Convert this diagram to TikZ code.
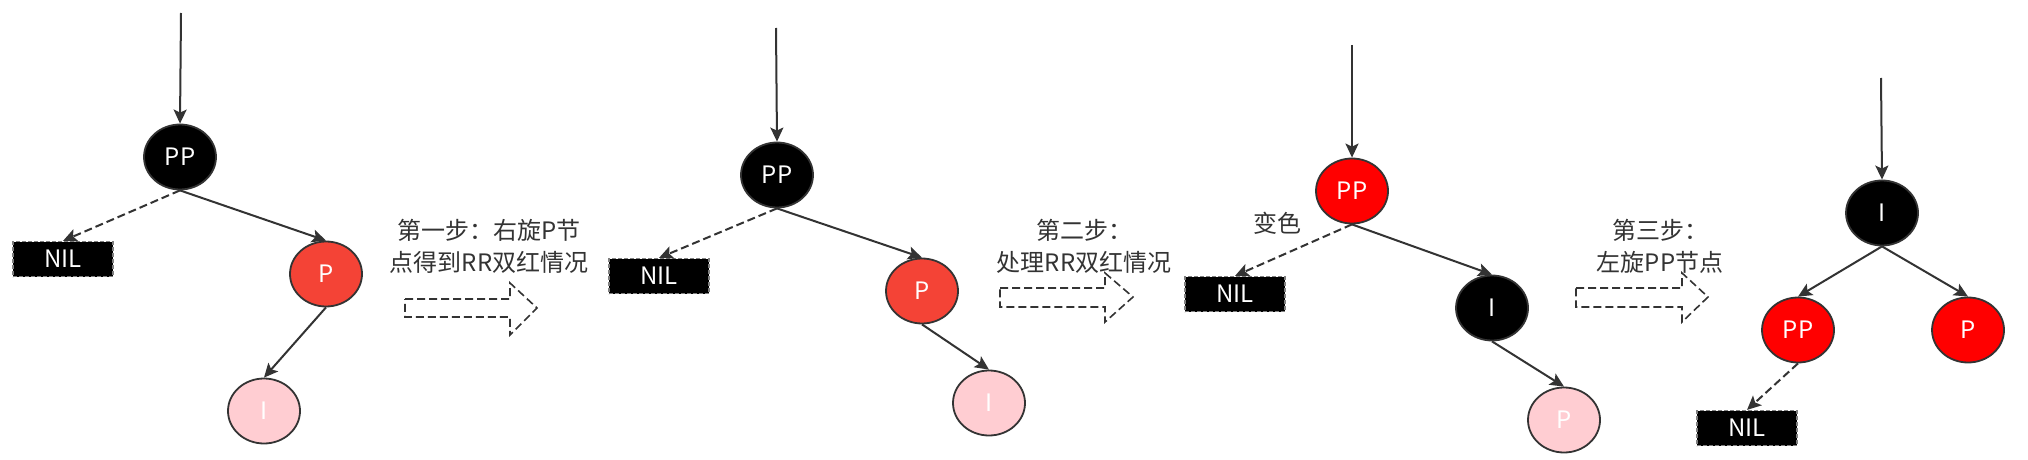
\documentclass[tikz,border=0pt]{standalone}
\usepackage{fontspec}
\setmainfont{Noto Sans CJK SC}
\usetikzlibrary{shapes.geometric,arrows.meta}
\definecolor{linegray}{HTML}{333333}
\definecolor{softred}{HTML}{F44336}
\definecolor{pinkfill}{HTML}{FFCDD2}
\begin{document}
\begin{tikzpicture}[x=0.5pt, y=-0.5pt,
   font=\fontsize{12pt}{16pt}\selectfont,
   every node/.style={inner sep=0pt},
   rbnode/.style={draw=linegray, line width=0.9pt, ellipse, minimum width=36pt, minimum height=32.5pt, text=white},
   blacknode/.style={rbnode, fill=black},
   rednode/.style={rbnode, fill=red},
   softnode/.style={rbnode, fill=softred},
   pinknode/.style={rbnode, fill=pinkfill},
   nilnode/.style={draw=gray, dashed, dash pattern=on 2pt off 1pt, line width=0.6pt, fill=black, text=white, minimum width=50pt, minimum height=17.5pt},
   edge/.style={draw=linegray, line width=1pt, -{Stealth[length=7pt, width=6.5pt, inset=1.5pt]}},
   niledge/.style={edge, dash pattern=on 4pt off 2pt},
   steptext/.style={text=linegray, align=center},
   hollowarrow/.style={draw=linegray, line width=0.8pt, dash pattern=on 4pt off 2pt}]

\useasboundingbox (0,0) rectangle (2028,460);

% tree 1
\coordinate (in1) at (181,13);
\node[blacknode] (pp1) at (180,157) {PP};
\node[nilnode] (nil1) at (63,259) {NIL};
\node[softnode] (p1) at (326,274) {P};
\node[pinknode] (i1) at (264,411) {I};
\draw[edge] (in1) -- (pp1.north);
\draw[niledge] (pp1.south) -- (nil1.north);
\draw[edge] (pp1.south) -- (p1.north);
\draw[edge] (p1.south) -- (i1.north);

% step 1
\node[steptext] (step1) at (489,246) {第一步：右旋P节\\点得到RR双红情况};
\draw[hollowarrow] (405,299) -- (510,299) -- (510,283) -- (537,308)
                   -- (510,335) -- (510,317) -- (405,317) -- cycle;

% tree 2
\coordinate (in2) at (776,28);
\node[blacknode] (pp2) at (777,175) {PP};
\node[nilnode] (nil2) at (659,276) {NIL};
\node[softnode] (p2) at (922,291) {P};
\node[pinknode] (i2) at (989,403) {I};
\draw[edge] (in2) -- (pp2.north);
\draw[niledge] (pp2.south) -- (nil2.north);
\draw[edge] (pp2.south) -- (p2.north);
\draw[edge] (p2.south) -- (i2.north);

% step 2
\node[steptext] (step2) at (1084,246) {第二步：\\处理RR双红情况};
\draw[hollowarrow] (1000,288) -- (1105,288) -- (1105,273) -- (1133,297)
                   -- (1105,322) -- (1105,307) -- (1000,307) -- cycle;

% tree 3
\coordinate (in3) at (1352,45);
\node[rednode] (pp3) at (1352,191) {PP};
\node[steptext] (recolor) at (1277,223) {变色};
\node[nilnode] (nil3) at (1235,294) {NIL};
\node[blacknode] (i3) at (1492,308) {I};
\node[pinknode] (p3) at (1564,420) {P};
\draw[edge] (in3) -- (pp3.north);
\draw[niledge] (pp3.south) -- (nil3.north);
\draw[edge] (pp3.south) -- (i3.north);
\draw[edge] (i3.south) -- (p3.north);

% step 3
\node[steptext] (step3) at (1660,246) {第三步：\\左旋PP节点};
\draw[hollowarrow] (1576,288) -- (1682,288) -- (1682,273) -- (1708,297)
                   -- (1682,322) -- (1682,307) -- (1576,307) -- cycle;

% tree 4
\coordinate (in4) at (1881,78);
\node[blacknode] (i4) at (1882,213) {I};
\node[rednode] (pp4) at (1798,330) {PP};
\node[rednode] (p4) at (1968,330) {P};
\node[nilnode] (nil4) at (1747,428) {NIL};
\draw[edge] (in4) -- (i4.north);
\draw[edge] (i4.south) -- (pp4.north);
\draw[edge] (i4.south) -- (p4.north);
\draw[niledge] (pp4.south) -- (nil4.north);

\end{tikzpicture}
\end{document}
